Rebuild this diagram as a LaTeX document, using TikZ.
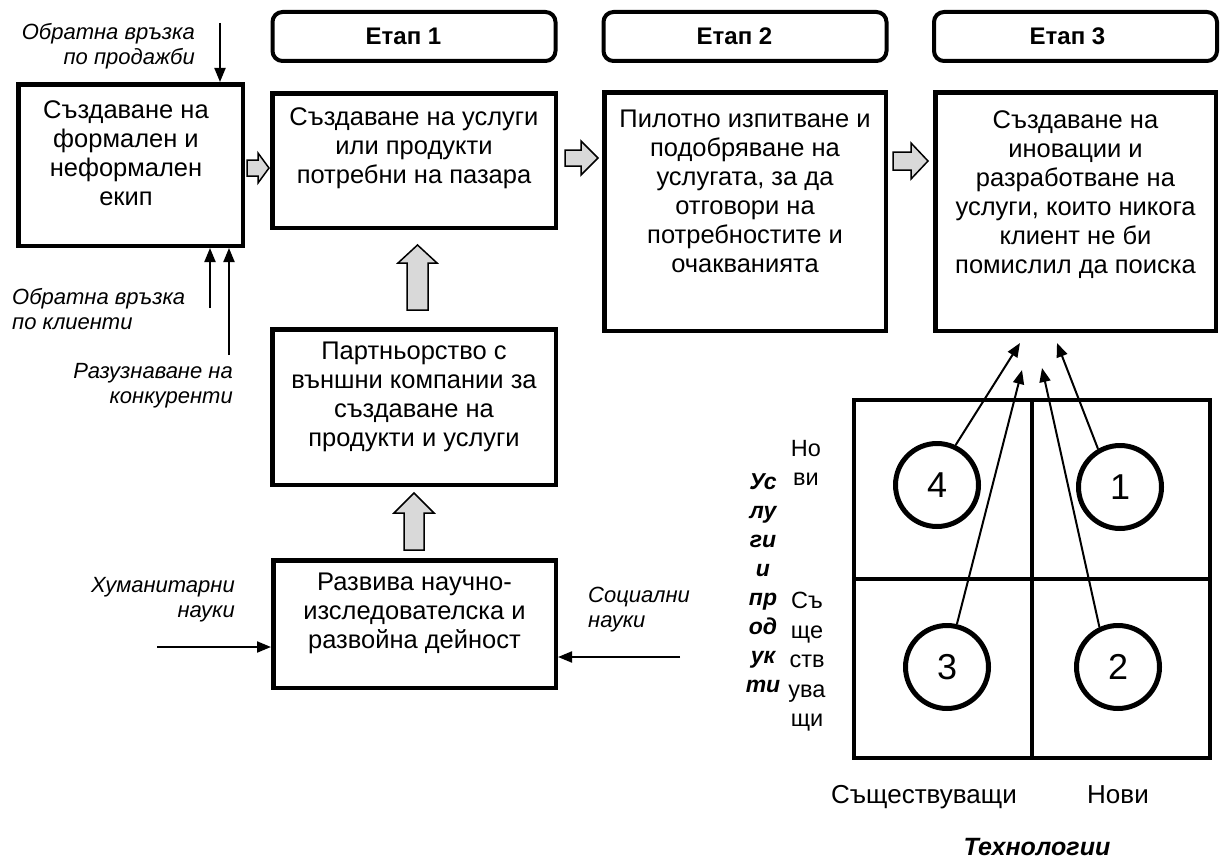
\documentclass[tikz,border=0pt]{standalone}
\usepackage{fontspec}
\setmainfont{Liberation Sans}
\usetikzlibrary{arrows.meta}

\tikzset{
  box/.style={draw, line width=4.5pt, inner sep=0pt},
  head/.style={draw, line width=4pt, rounded corners=10pt, minimum width=283pt, minimum height=49pt, inner sep=0pt, font=\fontsize{24}{29}\selectfont\bfseries},
  txt/.style={anchor=north, align=center, inner sep=0pt, font=\fontsize{25.5}{29}\selectfont},
  lbl/.style={inner sep=0pt, font=\fontsize{22}{25}\selectfont\itshape},
  axl/.style={inner sep=0pt, align=center, font=\fontsize{23.5}{29.5}\selectfont},
  arr/.style={line width=2pt, -{Triangle[length=14pt,width=11pt]}},
  blk/.style={draw, line width=1.5pt, fill=gray!30},
  quad/.style={draw, circle, line width=5pt, minimum size=83pt, inner sep=0pt, font=\fontsize{36}{40}\selectfont},
}

\begin{document}
\begin{tikzpicture}[x=1pt, y=-1pt]
\useasboundingbox (0,0) rectangle (1221,859);

% Етапи
\node[head] (et1) at (414,36.5) {Етап 1\hspace*{21pt}};
\node[head] (et2) at (745,36.5) {Етап 2\hspace*{21pt}};
\node[head] (et3) at (1075.5,36.5) {Етап 3\hspace*{16pt}};

% Кутии
\node[box, minimum width=224.5pt, minimum height=161.5pt] (team) at (130.5,165) {};
\node[box, minimum width=283.5pt, minimum height=134.5pt] (uslugi) at (414,160.5) {};
\node[box, minimum width=281.5pt, minimum height=238.5pt] (pilot) at (745,211.5) {};
\node[box, minimum width=280.5pt, minimum height=238.5pt] (inov) at (1075.5,211.5) {};
\node[box, minimum width=283.5pt, minimum height=155.5pt] (partner) at (414,407) {};
\node[box, minimum width=282.5pt, minimum height=127.5pt] (rnd) at (414.5,624) {};

% Текстове в кутиите (горе подравнени)
\node[txt] (teamtxt) at (126,100) {Създаване на\\формален и\\неформален\\екип};
\node[txt] (uslugitxt) at (414,107) {Създаване на услуги\\или продукти\\потребни на пазара};
\node[txt] (pilottxt) at (745,110) {Пилотно изпитване и\\подобряване на\\услугата, за да\\отговори на\\потребностите и\\очакванията};
\node[txt] (inovtxt) at (1075.5,110) {Създаване на\\иновации и\\разработване на\\услуги, които никога\\клиент не би\\помислил да поиска};
\node[txt] (partnertxt) at (414,342) {Партньорство с\\външни компании за\\създаване на\\продукти и услуги};
\node[txt] (rndtxt) at (414.5,573) {Развива научно-\\изследователска и\\развойна дейност};

% Блокови стрелки
\draw[blk] (247,160) -- (258,160) -- (258,153) -- (269,168) -- (258,183) -- (258,176) -- (247,176) -- cycle;
\draw[blk] (565,150) -- (581,150) -- (581,141) -- (598,158) -- (581,175) -- (581,166) -- (565,166) -- cycle;
\draw[blk] (893,152) -- (911,152) -- (911,143) -- (928,161) -- (911,179) -- (911,170) -- (893,170) -- cycle;
\draw[blk] (407,310) -- (407,263) -- (398,263) -- (417.5,245) -- (437,263) -- (428,263) -- (428,310) -- cycle;
\draw[blk] (404,550) -- (404,513) -- (394,513) -- (414,493) -- (434,513) -- (424,513) -- (424,550) -- cycle;

% Входове отляво
\node[lbl, anchor=north east, align=right] (sales) at (195,23) {Обратна връзка\\по продажби};
\node[lbl, anchor=north west, align=left] (clients) at (12,288) {Обратна връзка\\по клиенти};
\node[lbl, anchor=north east, align=right] (rivals) at (233,363) {Разузнаване на\\конкуренти};
\coordinate (salesin) at (220,23);
\coordinate (clientsin) at (210,308);
\coordinate (rivalsin) at (229,355);
\draw[arr] (salesin) -- (salesin |- team.north);
\draw[arr] (clientsin) -- (clientsin |- team.south);
\draw[arr] (rivalsin) -- (rivalsin |- team.south);

% Науки
\node[lbl, anchor=north east, align=right] (hum) at (235,577) {Хуманитарни\\науки};
\node[lbl, anchor=north west, align=left] (soc) at (588,587) {Социални\\науки};
\coordinate (humin) at (157,647);
\coordinate (socin) at (680,657);
\draw[arr] (humin) -- (humin -| rnd.west);
\draw[arr] (socin) -- (socin -| rnd.east);

% Матрица
\node[draw, line width=4pt, minimum width=356pt, minimum height=358pt, inner sep=0pt] (mtx) at (1032,579) {};
\draw[line width=4pt] (mtx.north) -- (mtx.south);
\draw[line width=4pt] (mtx.west) -- (mtx.east);

\node[quad] (q4) at (937,485) {4};
\node[quad] (q1) at (1120,487) {1};
\node[quad] (q3) at (947,667) {3};
\node[quad] (q2) at (1118,667) {2};

\coordinate (t4) at (1020,343);
\coordinate (t3) at (1022,370);
\coordinate (t2) at (1042,368);
\coordinate (t1) at (1057,343);
\draw[arr] (q4.65) -- (t4);
\draw[arr] (q3.77) -- (t3);
\draw[arr] (q2.115) -- (t2);
\draw[arr] (q1.120) -- (t1);

% Оси
\node[axl, anchor=north, font=\fontsize{23}{29}\selectfont\bfseries\itshape] (uslax) at (763,473) {Ус\\лу\\ги\\и\\пр\\од\\ук\\ти};
\node[axl, anchor=north] (novi) at (806,440) {Но\\ви};
\node[axl, anchor=north] (sasht) at (807,592) {Съ\\ще\\ств\\ува\\щи};
\node[axl, anchor=base, font=\fontsize{26}{29}\selectfont] (tsasht) at (924,803) {Съществуващи};
\node[axl, anchor=base, font=\fontsize{26}{29}\selectfont] (tnovi) at (1118,803) {Нови};
\node[axl, anchor=base, font=\fontsize{25}{29}\selectfont\bfseries\itshape] (tehn) at (1037,855) {Технологии};

\end{tikzpicture}
\end{document}
